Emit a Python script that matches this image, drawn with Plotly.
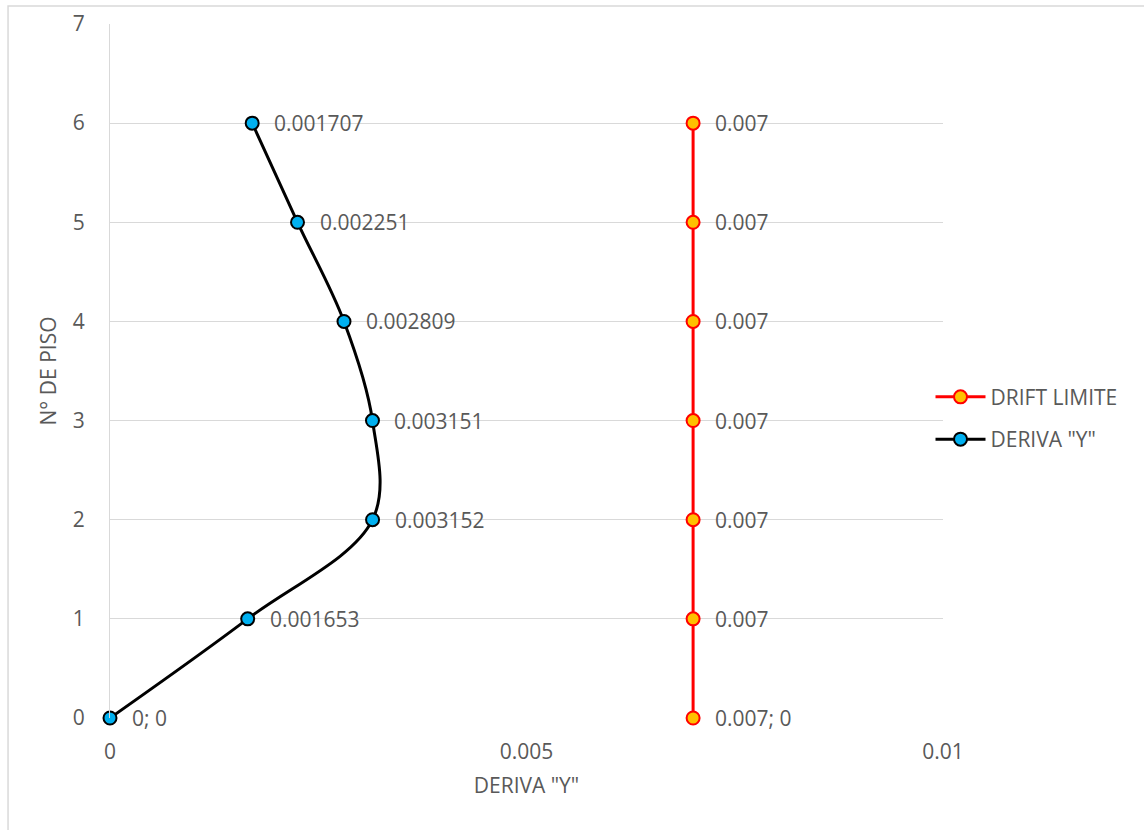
import plotly.graph_objects as go

# Story numbers and drift values
pisos = [0, 1, 2, 3, 4, 5, 6]
deriva_y = [0, 0.001653, 0.003152, 0.003151, 0.002809, 0.002251, 0.001707]
drift_limite = [0.007, 0.007, 0.007, 0.007, 0.007, 0.007, 0.007]

x_ticks = [0, 0.005, 0.01]
x_tick_text = ["0", "0.005", "0.01"]
y_ticks = [0, 1, 2, 3, 4, 5, 6, 7]

FONT = "Open Sans"
GREY = "#595959"
FS = 21


def label(x, y):
    s = f"{x:g}"
    return f"{s}; {y:g}" if y == 0 else s


fig = go.Figure()

fig.add_trace(go.Scatter(
    x=drift_limite, y=pisos, name="DRIFT LIMITE", mode="lines+markers",
    legendgroup="limite",
    line=dict(color="#FF0000", width=3),
    marker=dict(size=13, color="#FFC000", line=dict(color="#FF0000", width=2)),
    cliponaxis=False,
))
fig.add_trace(go.Scatter(
    x=deriva_y, y=pisos, name='DERIVA "Y"', mode="lines+markers",
    legendgroup="deriva",
    line=dict(color="#000000", width=3, shape="spline", smoothing=1),
    marker=dict(size=13, color="#00B0F0", line=dict(color="#000000", width=2)),
    cliponaxis=False,
))

# Value labels to the right of each point
for xs in (drift_limite, deriva_y):
    for x, y in zip(xs, pisos):
        fig.add_annotation(
            x=x, y=y, text=label(x, y), showarrow=False,
            xanchor="left", yanchor="middle", xshift=20,
            font=dict(family=FONT, size=FS, color=GREY),
        )

# Outer chart frame
fig.add_shape(type="rect", xref="paper", yref="paper",
              x0=-0.1224, y0=-0.3, x1=1.3, y1=1.0259,
              line=dict(color="#D9D9D9", width=1.5), layer="below")

fig.update_layout(
    width=1144, height=830,
    margin=dict(l=110, r=201, t=24, b=112, autoexpand=False),
    paper_bgcolor="white", plot_bgcolor="white",
    font=dict(family=FONT, size=FS, color=GREY),
    showlegend=True,
    legend=dict(x=0.985, y=0.432, xanchor="left", yanchor="middle",
                font=dict(family=FONT, size=FS, color=GREY),
                traceorder="grouped", tracegroupgap=12,
                bgcolor="rgba(0,0,0,0)", itemwidth=50),
    xaxis=dict(
        range=[0, 0.01], tickmode="array", tickvals=x_ticks, ticktext=x_tick_text,
        showgrid=False, zeroline=False, showline=False, automargin=False,
        ticks="", ticklabelstandoff=19,
        title=dict(text='DERIVA "Y"', standoff=14,
                   font=dict(family=FONT, size=FS, color=GREY)),
        tickfont=dict(family=FONT, size=FS, color=GREY),
    ),
    yaxis=dict(
        range=[0, 7], tickmode="array", tickvals=y_ticks,
        showgrid=True, gridcolor="#D9D9D9", gridwidth=1.3,
        zeroline=False, showline=True, linecolor="#D9D9D9", linewidth=1.3,
        automargin=False,
        ticks="", ticklabelstandoff=20,
        title=dict(text="N° DE PISO", standoff=10,
                   font=dict(family=FONT, size=FS, color=GREY)),
        tickfont=dict(family=FONT, size=FS, color=GREY),
    ),
)

fig.write_html("out.html")
